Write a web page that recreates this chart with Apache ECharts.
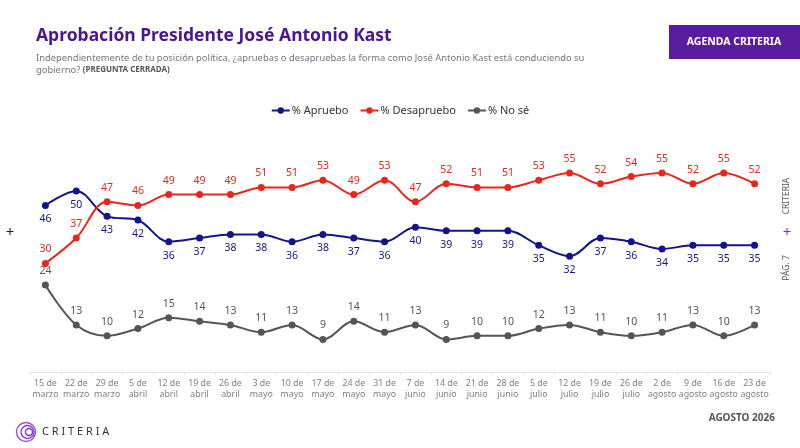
<!DOCTYPE html>
<html>
<head>
<meta charset="UTF-8">
<title>Aprobación Presidente José Antonio Kast</title>
<script src="https://cdn.jsdelivr.net/npm/echarts@6/dist/echarts.min.js"></script>
<style>
  html, body { margin: 0; padding: 0; background: #fff; }
  #chart { width: 800px; height: 448px; }
</style>
</head>
<body>
<div id="chart"></div>
<script>
// fechas de la encuesta (eje x)
var fechas = ['15 de\nmarzo', '22 de\nmarzo', '29 de\nmarzo', '5 de\nabril', '12 de\nabril', '19 de\nabril',
  '26 de\nabril', '3 de\nmayo', '10 de\nmayo', '17 de\nmayo', '24 de\nmayo', '31 de\nmayo',
  '7 de\njunio', '14 de\njunio', '21 de\njunio', '28 de\njunio', '5 de\njulio', '12 de\njulio',
  '19 de\njulio', '26 de\njulio', '2 de\nagosto', '9 de\nagosto', '16 de\nagosto', '23 de\nagosto'];

var apruebo    = [46, 50, 43, 42, 36, 37, 38, 38, 36, 38, 37, 36, 40, 39, 39, 39, 35, 32, 37, 36, 34, 35, 35, 35];
var desapruebo = [30, 37, 47, 46, 49, 49, 49, 51, 51, 53, 49, 53, 47, 52, 51, 51, 53, 55, 52, 54, 55, 52, 55, 52];
var noSe       = [24, 13, 10, 12, 15, 14, 13, 11, 13, 9, 14, 11, 13, 9, 10, 10, 12, 13, 11, 10, 11, 13, 10, 13];

var nombres = ['% Apruebo', '% Desapruebo', '% No sé'];
var colores = ['#14148a', '#e8261c', '#555555'];

var font = '"Noto Sans", sans-serif';
var chart = echarts.init(document.getElementById('chart'));

function serie(i, data, pos) {
  return {
    name: nombres[i],
    type: 'line',
    data: data,
    smooth: 0.35,
    symbol: 'circle',
    symbolSize: 7,
    lineStyle: { width: 2, color: colores[i] },
    itemStyle: { color: colores[i] },
    label: {
      show: true,
      position: pos,
      distance: 5,
      color: colores[i],
      fontSize: 10.5,
      fontFamily: font
    },
    animation: false
  };
}

var option = {
  backgroundColor: '#ffffff',
  textStyle: { fontFamily: font },
  legend: {
    top: 100,
    left: 'center',
    itemWidth: 18,
    itemHeight: 8,
    itemGap: 11,
    textStyle: { fontSize: 11, color: '#333', fontFamily: font, padding: [0, 0, 0, -3] },
    data: nombres
  },
  grid: { left: 30, right: 30, top: 100.5, bottom: 76 },
  xAxis: {
    type: 'category',
    data: fechas,
    boundaryGap: true,
    axisLine: { lineStyle: { color: '#e2e2e2', width: 1 } },
    axisTick: { show: true, length: 3, lineStyle: { color: '#e2e2e2' } },
    axisLabel: {
      interval: 0,
      color: '#808080',
      fontSize: 8.8,
      lineHeight: 11,
      margin: 6,
      fontFamily: font
    }
  },
  yAxis: {
    type: 'value',
    min: 0,
    max: 75,
    show: false,
    splitLine: { show: false }
  },
  series: [
    serie(0, apruebo, 'bottom'),
    serie(1, desapruebo, 'top'),
    serie(2, noSe, 'top')
  ],
  graphic: [
    {
      type: 'text', left: 36, top: 27,
      style: { text: 'Aprobación Presidente José Antonio Kast', fill: '#4a168f',
        font: 'bold 17.5px ' + font }
    },
    {
      type: 'text', left: 36, top: 52,
      style: {
        text: 'Independientemente de tu posición política, ¿apruebas o desapruebas la forma como José Antonio Kast está conduciendo su\ngobierno? {b|(PREGUNTA CERRADA)}',
        fill: '#777', font: '9.4px ' + font, lineHeight: 12,
        rich: { b: { fontWeight: 'bold', fontSize: 8, fill: '#555', fontFamily: font } }
      }
    },
    {
      type: 'rect', shape: { x: 669, y: 25, width: 131, height: 34 },
      style: { fill: '#5a1c9f' }
    },
    {
      type: 'text', x: 734, y: 42,
      style: { text: 'AGENDA CRITERIA', fill: '#fff', font: 'bold 10.5px ' + font,
        align: 'center', verticalAlign: 'middle' }
    },
    {
      type: 'text', x: 10, y: 233,
      style: { text: '+', fill: '#222', font: '15px ' + font, align: 'center', verticalAlign: 'middle' }
    },
    {
      type: 'text', x: 787, y: 233,
      style: { text: '+', fill: '#8a2be2', font: '15px ' + font, align: 'center', verticalAlign: 'middle' }
    },
    {
      type: 'text', x: 787, y: 196, rotation: Math.PI / 2,
      style: { text: 'CRITERIA', fill: '#555', font: '8.5px ' + font, align: 'center', verticalAlign: 'middle' }
    },
    {
      type: 'text', x: 787, y: 268, rotation: Math.PI / 2,
      style: { text: 'PÁG. 7', fill: '#555', font: '8.5px ' + font, align: 'center', verticalAlign: 'middle' }
    },
    {
      type: 'text', x: 775, y: 418,
      style: { text: 'AGOSTO 2026', fill: '#555', font: 'bold 10px ' + font, align: 'right', verticalAlign: 'middle' }
    },
    // logo
    {
      type: 'circle', shape: { cx: 26, cy: 432, r: 9.5 },
      style: { fill: 'none', stroke: '#9b4de0', lineWidth: 1.4 }
    },
    {
      type: 'circle', shape: { cx: 27.5, cy: 432, r: 6.5 },
      style: { fill: 'none', stroke: '#8a3fd6', lineWidth: 1.4 }
    },
    {
      type: 'circle', shape: { cx: 29, cy: 432, r: 3.5 },
      style: { fill: 'none', stroke: '#7a33c9', lineWidth: 1.4 }
    },
    {
      type: 'text', x: 42, y: 432,
      style: { text: 'C R I T E R I A', fill: '#333', font: '11px ' + font, verticalAlign: 'middle' }
    }
  ]
};

chart.setOption(option);
</script>
</body>
</html>
